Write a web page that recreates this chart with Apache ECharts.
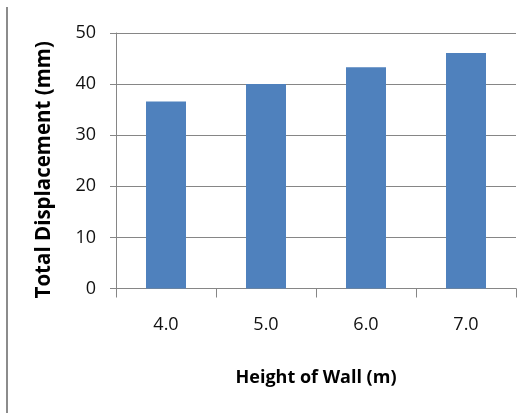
<!DOCTYPE html>
<html>
<head>
<meta charset="utf-8">
<script src="https://cdn.jsdelivr.net/npm/echarts@6/dist/echarts.min.js"></script>
<style>
html,body{margin:0;padding:0;background:#fff;}
#chart{width:529px;height:413px;}
</style>
</head>
<body>
<div id="chart"></div>
<script>
const categories = ['4.0', '5.0', '6.0', '7.0'];
const displacement = [36.6, 40.0, 43.3, 46.1];
const yTicks = { min: 0, max: 50, interval: 10 };

const chart = echarts.init(document.getElementById('chart'));
const font = '"Open Sans", Lato, sans-serif';
chart.setOption({
  animation: false,
  graphic: [{
    type: 'rect',
    shape: { x: 6, y: 7, width: 2, height: 406 },
    style: { fill: '#8c8c8c' }
  }],
  grid: { left: 116, right: 13, top: 33, bottom: 124.5 },
  xAxis: {
    type: 'category',
    data: categories,
    name: 'Height of Wall (m)',
    nameLocation: 'middle',
    nameGap: 80,
    nameTextStyle: { fontFamily: font, fontWeight: 'bold', fontSize: 18, color: '#000' },
    axisLine: { lineStyle: { color: '#868686', width: 1 } },
    axisTick: { show: true, length: 9, lineStyle: { color: '#868686' } },
    axisLabel: { fontFamily: font, fontSize: 18, color: '#111', margin: 27 }
  },
  yAxis: {
    type: 'value',
    min: yTicks.min, max: yTicks.max, interval: yTicks.interval,
    name: 'Total Displacement (mm)',
    nameLocation: 'middle',
    nameGap: 61,
    nameTextStyle: { fontFamily: font, fontWeight: 'bold', fontSize: 20.5, color: '#000', padding: [0, 18, 0, 0] },
    axisLine: { show: true, lineStyle: { color: '#868686', width: 1 } },
    axisTick: { show: true, length: 6, lineStyle: { color: '#868686' } },
    axisLabel: { fontFamily: font, fontSize: 18, color: '#111', margin: 20 },
    splitLine: { lineStyle: { color: '#868686', width: 1 } }
  },
  series: [{
    type: 'bar',
    data: displacement,
    barWidth: '40%',
    itemStyle: { color: '#4f81bd' }
  }]
});
</script>
</body>
</html>
